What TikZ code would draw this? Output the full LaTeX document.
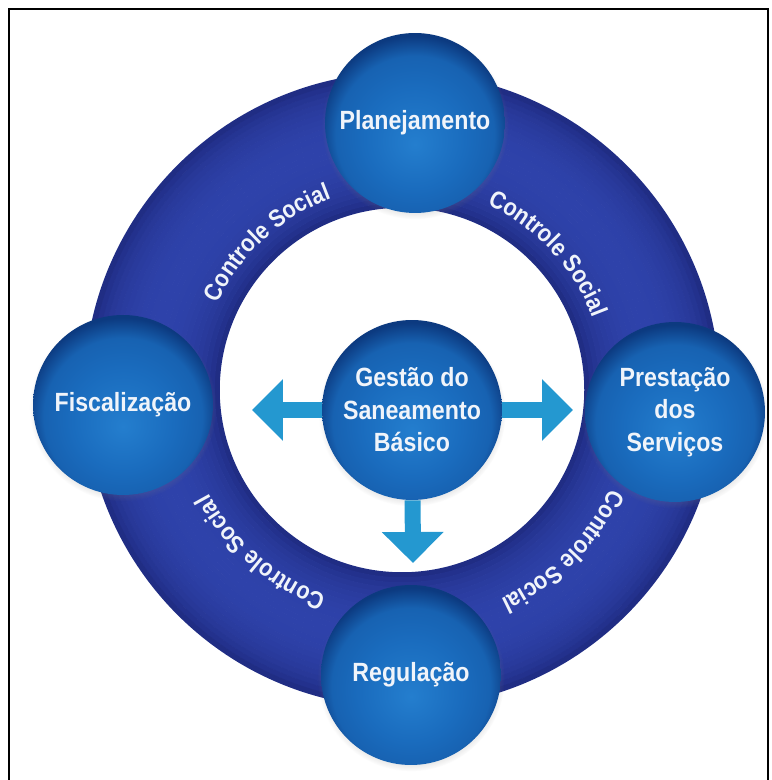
\documentclass[tikz,border=0pt]{standalone}
\usepackage{fontspec}
\setmainfont{Liberation Sans}[FakeStretch=0.88]
\usetikzlibrary{arrows.meta, decorations.text, shadows}

\definecolor{ringmid}{RGB}{46,66,170}
\definecolor{ringedge}{RGB}{24,32,110}
\definecolor{ballmid}{RGB}{26,108,190}
\definecolor{ballhi}{RGB}{36,126,206}
\definecolor{ballrim}{RGB}{12,58,128}
\definecolor{arrowcyan}{RGB}{36,152,208}
\definecolor{labelwhite}{RGB}{240,244,250}

\pgfdeclareradialshading{ballshade}{\pgfpoint{0bp}{-6bp}}{color(0bp)=(ballhi); color(14bp)=(ballmid); color(22bp)=(ballmid!80!ballrim); color(27bp)=(ballrim); color(50bp)=(ballrim)}

\newcommand{\ballfont}{\fontsize{15}{18.5}\selectfont\bfseries}
\newcommand{\socialfont}{\fontsize{14}{16}\selectfont\bfseries}

\tikzset{
  ballnode/.style={circle, minimum size=3.6cm, inner sep=0pt, shade, shading=ballshade,
    text=labelwhite, align=center, font=\ballfont,
    circular drop shadow={shadow xshift=0pt, shadow yshift=-1.5pt, shadow scale=1.04, opacity=0.35}},
  fatarrow/.style={draw=arrowcyan, line width=0.32cm, -{Triangle[width=1.2cm, length=0.62cm]}},
  socialtext/.style={decorate, decoration={text along path, text align=center,
    text color=labelwhite, text={|\socialfont|Controle Social}}}
}

\begin{document}
\begin{tikzpicture}[x=0.02cm, y=0.02cm]
  \useasboundingbox (0,0) rectangle (771,780);
  % Draw the frame
  \draw[line width=1.2pt] (9,0) -- (9,771) -- (768,771) -- (768,0);

  % Draw the ring
  \coordinate (ring) at (402,390);
  \foreach \i in {0,...,26} {
    \pgfmathsetmacro{\rr}{185+5*\i}
    \pgfmathsetmacro{\pc}{100*sqrt(1-((\i-13)/14)*((\i-13)/14))}
    \draw[ringmid!\pc!ringedge, line width=0.11cm] (ring) circle[radius=\rr];
  }

  % Label the ring
  \foreach \a/\r in {132.5/204, 43/204, -45/231, 229/219}
    \path[socialtext] ([shift={(\a+25:\r)}]ring) arc[start angle=\a+25, end angle=\a-25, radius=\r];

  % Draw the balls
  \node[ballnode] (plan) at (415,657) {Planejamento};
  \node[ballnode] (fisc) at (123,375) {Fiscalização};
  \node[ballnode] (prest) at (675,368) {Prestação\\dos\\Serviços};
  \node[ballnode] (regul) at (411,105) {Regulação};
  \node[ballnode] (gest) at (412,370) {Gestão do\\Saneamento\\Básico};

  % Draw the arrows
  \coordinate (ltip) at (252,370);
  \coordinate (rtip) at (573,370);
  \coordinate (dtip) at (413,217);
  \draw[fatarrow] (gest) -- (ltip);
  \draw[fatarrow] (gest) -- (rtip);
  \draw[fatarrow] (gest) -- (dtip);
\end{tikzpicture}
\end{document}
